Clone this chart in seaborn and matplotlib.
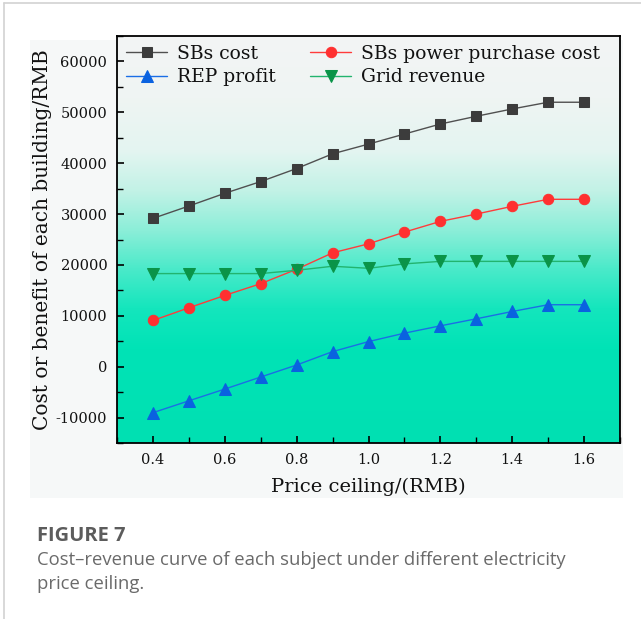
import numpy as np
import pandas as pd
import matplotlib
matplotlib.use("Agg")
import matplotlib.pyplot as plt
from matplotlib.colors import LinearSegmentedColormap
from matplotlib.patches import Rectangle
from matplotlib.lines import Line2D
from matplotlib.ticker import MultipleLocator, FixedLocator
import seaborn as sns

# Electricity price ceiling (RMB) and the resulting cost / benefit per building
price_ceiling = [0.4, 0.5, 0.6, 0.7, 0.8, 0.9, 1.0, 1.1, 1.2, 1.3, 1.4, 1.5, 1.6]
sbs_cost = [29150, 31580, 34080, 36390, 38950, 41840, 43750, 45730, 47700,
            49220, 50660, 51980, 51980]
sbs_purchase_cost = [9080, 11580, 14010, 16320, 19150, 22380, 24150, 26450,
                     28560, 30000, 31520, 32900, 32900]
rep_profit = [-9040, -6710, -4400, -2030, 330, 2960, 4930, 6590, 8030, 9410,
              10850, 12180, 12180]
grid_revenue = [18300, 18300, 18300, 18300, 18950, 19740, 19340, 20210, 20700,
                20700, 20700, 20700, 20700]

series_names = ["SBs cost", "REP profit", "SBs power purchase cost", "Grid revenue"]
x_tick_labels = ["0.4", "0.6", "0.8", "1.0", "1.2", "1.4", "1.6"]
y_tick_labels = ["-10000", "0", "10000", "20000", "30000", "40000", "50000", "60000"]

sns.set_style("ticks")
plt.rcParams["font.family"] = ["DejaVu Serif"]
plt.rcParams["axes.unicode_minus"] = False

W, H = 641, 619
fig = plt.figure(figsize=(W / 100, H / 100), dpi=100)
fig.patch.set_facecolor("white")

# page frame and light panel behind the chart
fig.add_artist(Line2D([4 / W, 4 / W], [0, 1 - 3 / H], transform=fig.transFigure,
                      color="#d2d2d2", lw=1.2))
fig.add_artist(Line2D([4 / W, 1], [1 - 3 / H, 1 - 3 / H], transform=fig.transFigure,
                      color="#d2d2d2", lw=1.2))
fig.add_artist(Rectangle((30 / W, 1 - 498 / H), (623 - 30) / W, (498 - 40) / H,
                         transform=fig.transFigure, facecolor="#f6f8f8",
                         edgecolor="none", zorder=0))

ax_left, ax_right, ax_top, ax_bottom = 117, 620, 36, 443
ax = fig.add_axes([ax_left / W, 1 - ax_bottom / H, (ax_right - ax_left) / W,
                   (ax_bottom - ax_top) / H])

# vertical background gradient: pale grey at the top fading to turquoise
stops = [(0.0, "#00e0b2"), (0.23, "#00e3b6"), (0.33, "#14e6bd"), (0.43, "#4ceaca"),
         (0.52, "#8aeed8"), (0.62, "#c2f2e6"), (0.72, "#e4f5f1"), (0.85, "#eff4f3"),
         (1.0, "#f3f5f5")]
cmap = LinearSegmentedColormap.from_list("bg", stops)
grad = np.linspace(0, 1, 256).reshape(-1, 1)
ax.imshow(grad, cmap=cmap, origin="lower", aspect="auto", extent=[0, 1, 0, 1],
          transform=ax.transAxes, zorder=0)

df = pd.DataFrame({
    "price": price_ceiling * 4,
    "value": sbs_cost + rep_profit + sbs_purchase_cost + grid_revenue,
    "series": np.repeat(series_names, len(price_ceiling)),
})

styles = {
    "SBs cost": dict(color="#505050", marker="s", mfc="#3c3c3c", ms=7.0),
    "REP profit": dict(color="#1a6ee6", marker="^", mfc="#0a62e0", ms=8.0),
    "SBs power purchase cost": dict(color="#ff3b3b", marker="o", mfc="#ff3030", ms=7.5),
    "Grid revenue": dict(color="#22b46e", marker="v", mfc="#0a9448", ms=8.0),
}

for name in series_names:
    st = styles[name]
    sub = df[df["series"] == name]
    sns.lineplot(data=sub, x="price", y="value", ax=ax, color=st["color"],
                 marker=st["marker"], markersize=st["ms"], markerfacecolor=st["mfc"],
                 markeredgecolor=st["mfc"], linewidth=1.0, label=name, zorder=3)

ax.set_xlim(0.3, 1.7)
ax.set_ylim(-15000, 65000)
ax.xaxis.set_major_locator(FixedLocator([float(t) for t in x_tick_labels]))
ax.set_xticklabels(x_tick_labels)
ax.xaxis.set_minor_locator(MultipleLocator(0.1))
ax.yaxis.set_major_locator(FixedLocator([float(t) for t in y_tick_labels]))
ax.set_yticklabels(y_tick_labels)
ax.yaxis.set_minor_locator(MultipleLocator(5000))

ax.tick_params(axis="both", which="major", direction="in", length=5, width=1.2,
               labelsize=10.5, color="black", labelcolor="#111111", pad=7)
ax.tick_params(axis="both", which="minor", direction="in", length=4, width=1.0,
               color="black")
for sp in ax.spines.values():
    sp.set_color("black")
    sp.set_linewidth(1.3)

ax.set_xlabel("Price ceiling/(RMB)", fontsize=14, color="#111111", labelpad=8)
ax.set_ylabel("Cost or benefit of each building/RMB", fontsize=14.5, color="#111111",
              labelpad=3)

handles, labels = ax.get_legend_handles_labels()
order = [labels.index(n) for n in series_names]
leg = ax.legend([handles[i] for i in order], [labels[i] for i in order], ncol=2,
                loc="upper left", bbox_to_anchor=(0.0, 1.0), frameon=False,
                fontsize=13.5, handlelength=2.2, handletextpad=0.5,
                columnspacing=1.85, labelspacing=0.28, borderaxespad=0.08)
for t in leg.get_texts():
    t.set_color("#111111")

# caption below the chart
fig.text(37 / W, 1 - 541 / H, "FIGURE 7", fontsize=14.5, fontweight="bold",
         family="Open Sans", color="#5c5c5c", va="baseline", ha="left")
fig.text(37 / W, 1 - 565 / H,
         "Cost\u2013revenue curve of each subject under different electricity",
         fontsize=13.3, family="Open Sans", color="#6a6a6a", va="baseline", ha="left")
fig.text(37 / W, 1 - 589 / H, "price ceiling.", fontsize=13.3, family="Open Sans",
         color="#6a6a6a", va="baseline", ha="left")

fig.savefig("out.png", dpi=100, facecolor="white")
